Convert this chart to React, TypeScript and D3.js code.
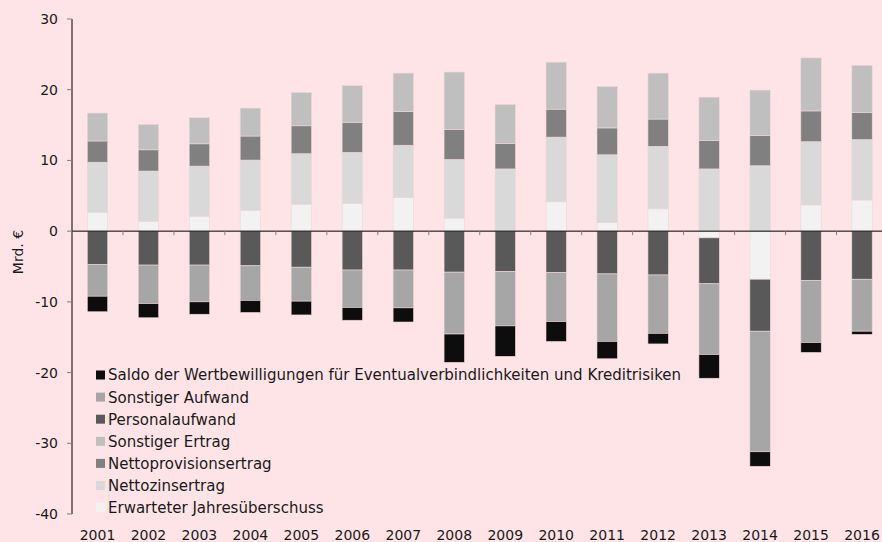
import { useRef, useEffect } from "react";
import * as d3 from "d3";

const YEARS = ["2001", "2002", "2003", "2004", "2005", "2006", "2007", "2008", "2009", "2010", "2011", "2012", "2013", "2014", "2015", "2016"];

// Mrd. €
const JAHRESUEBERSCHUSS = [2.65, 1.4, 2.1, 2.95, 3.8, 3.9, 4.75, 1.85, 0, 4.15, 1.2, 3.15, -0.95, -6.8, 3.7, 4.4];
const NETTOZINS = [7.1, 7.1, 7.1, 7.1, 7.15, 7.25, 7.4, 8.3, 8.8, 9.15, 9.6, 8.85, 8.8, 9.25, 8.95, 8.55];
const NETTOPROVISION = [3.0, 3.0, 3.15, 3.4, 3.95, 4.25, 4.75, 4.2, 3.6, 3.95, 3.8, 3.85, 4.0, 4.25, 4.35, 3.85];
const SONST_ERTRAG = [3.95, 3.6, 3.7, 3.95, 4.7, 5.2, 5.45, 8.15, 5.5, 6.65, 5.85, 6.5, 6.15, 6.45, 7.5, 6.65];
const PERSONAL = [-4.7, -4.8, -4.8, -4.9, -5.1, -5.5, -5.5, -5.8, -5.7, -5.85, -6.05, -6.2, -6.5, -7.35, -6.95, -6.8];
const SONST_AUFWAND = [-4.5, -5.45, -5.2, -4.9, -4.8, -5.3, -5.35, -8.75, -7.7, -6.95, -9.55, -8.25, -10.0, -17.05, -8.8, -7.35];
const SALDO = [-2.2, -2.0, -1.75, -1.7, -1.95, -1.8, -2.0, -4.0, -4.3, -2.8, -2.45, -1.5, -3.35, -2.05, -1.4, -0.45];

const Y_TICKS = [-40, -30, -20, -10, 0, 10, 20, 30];

// stacking order (diverging): first key sits next to zero
const SERIES = [
  { key: "j", label: "Erwarteter Jahresüberschuss", color: "#f2f2f2", values: JAHRESUEBERSCHUSS },
  { key: "nz", label: "Nettozinsertrag", color: "#d9d9d9", values: NETTOZINS },
  { key: "np", label: "Nettoprovisionsertrag", color: "#808080", values: NETTOPROVISION },
  { key: "se", label: "Sonstiger Ertrag", color: "#bfbfbf", values: SONST_ERTRAG },
  { key: "pa", label: "Personalaufwand", color: "#595959", values: PERSONAL },
  { key: "sa", label: "Sonstiger Aufwand", color: "#a6a6a6", values: SONST_AUFWAND },
  { key: "sd", label: "Saldo der Wertbewilligungen für Eventualverbindlichkeiten und Kreditrisiken", color: "#0d0d0d", values: SALDO },
];

const LEGEND_ORDER = ["sd", "sa", "pa", "se", "np", "nz", "j"];

const WIDTH = 882;
const HEIGHT = 542;
const FONT = "'DejaVu Sans', sans-serif";
const BG = "#fee4e6";

export default function App() {
  const svgRef = useRef<SVGSVGElement>(null);

  useEffect(() => {
    document.body.style.margin = "0";
    const svg = svgRef.current;
    if (!svg) return;
    const root = d3.select(svg);
    root.selectAll("*").remove();

    root.append("rect").attr("width", WIDTH).attr("height", HEIGHT).attr("fill", BG);

    const x = d3.scaleBand<string>().domain(YEARS).range([72, 887.5]).paddingInner(0.6).paddingOuter(0.3);
    const y = d3.scaleLinear().domain([-40, 30]).range([514, 19]);

    const rows = YEARS.map((yr, i) => {
      const r: Record<string, number | string> = { year: yr };
      for (const s of SERIES) r[s.key] = s.values[i];
      return r;
    });

    const stack = d3
      .stack<Record<string, number | string>>()
      .keys(SERIES.map((s) => s.key))
      .value((d, k) => d[k] as number)
      .offset(d3.stackOffsetDiverging);
    const layers = stack(rows);

    layers.forEach((layer, li) => {
      const color = SERIES[li].color;
      root
        .append("g")
        .selectAll("rect")
        .data(layer)
        .join("rect")
        .attr("x", (d) => x(d.data.year as string)!)
        .attr("width", x.bandwidth())
        .attr("y", (d) => y(Math.max(d[0], d[1])))
        .attr("height", (d) => Math.abs(y(d[0]) - y(d[1])))
        .attr("fill", color)
        .attr("stroke", "#efd6d8")
        .attr("stroke-width", 0.6);
    });

    // y axis
    root.append("line").attr("x1", 72).attr("x2", 72).attr("y1", y(30)).attr("y2", y(-40)).attr("stroke", "#000").attr("stroke-width", 1);
    for (const t of Y_TICKS) {
      root.append("line").attr("x1", 67).attr("x2", 72).attr("y1", y(t)).attr("y2", y(t)).attr("stroke", "#808080");
      root
        .append("text")
        .attr("x", 58)
        .attr("y", y(t))
        .attr("dy", "0.36em")
        .attr("text-anchor", "end")
        .attr("fill", "#1a1a1a")
        .attr("font-family", FONT)
        .attr("font-size", 14)
        .text(String(t));
    }

    // zero line + category ticks
    root.append("line").attr("x1", 72).attr("x2", WIDTH).attr("y1", y(0)).attr("y2", y(0)).attr("stroke", "#000").attr("stroke-width", 1);
    const step = x.step();
    YEARS.forEach((yr) => {
      const bx = x(yr)! + x.bandwidth() / 2 - step / 2;
      root.append("line").attr("x1", bx).attr("x2", bx).attr("y1", y(0)).attr("y2", y(0) + 4).attr("stroke", "#808080");
      root
        .append("text")
        .attr("x", x(yr)! + x.bandwidth() / 2)
        .attr("y", 535)
        .attr("dy", "0.36em")
        .attr("text-anchor", "middle")
        .attr("fill", "#1a1a1a")
        .attr("font-family", FONT)
        .attr("font-size", 14)
        .text(yr);
    });

    // axis title
    root
      .append("text")
      .attr("transform", `translate(18,252) rotate(-90)`)
      .attr("text-anchor", "middle")
      .attr("dy", "0.36em")
      .attr("fill", "#1a1a1a")
      .attr("font-family", FONT)
      .attr("font-size", 14)
      .text("Mrd. €");

    // legend
    LEGEND_ORDER.forEach((k, i) => {
      const s = SERIES.find((d) => d.key === k)!;
      const cy = 375 + i * 22.1;
      root.append("rect").attr("x", 96).attr("y", cy - 4.5).attr("width", 9).attr("height", 9).attr("fill", s.color);
      root
        .append("text")
        .attr("x", 108)
        .attr("y", cy)
        .attr("dy", "0.36em")
        .attr("fill", "#1a1a1a")
        .attr("font-family", FONT)
        .attr("font-size", 15)
        .text(s.label);
    });
  }, []);

  return <svg ref={svgRef} width={WIDTH} height={HEIGHT} style={{ display: "block" }} />;
}
